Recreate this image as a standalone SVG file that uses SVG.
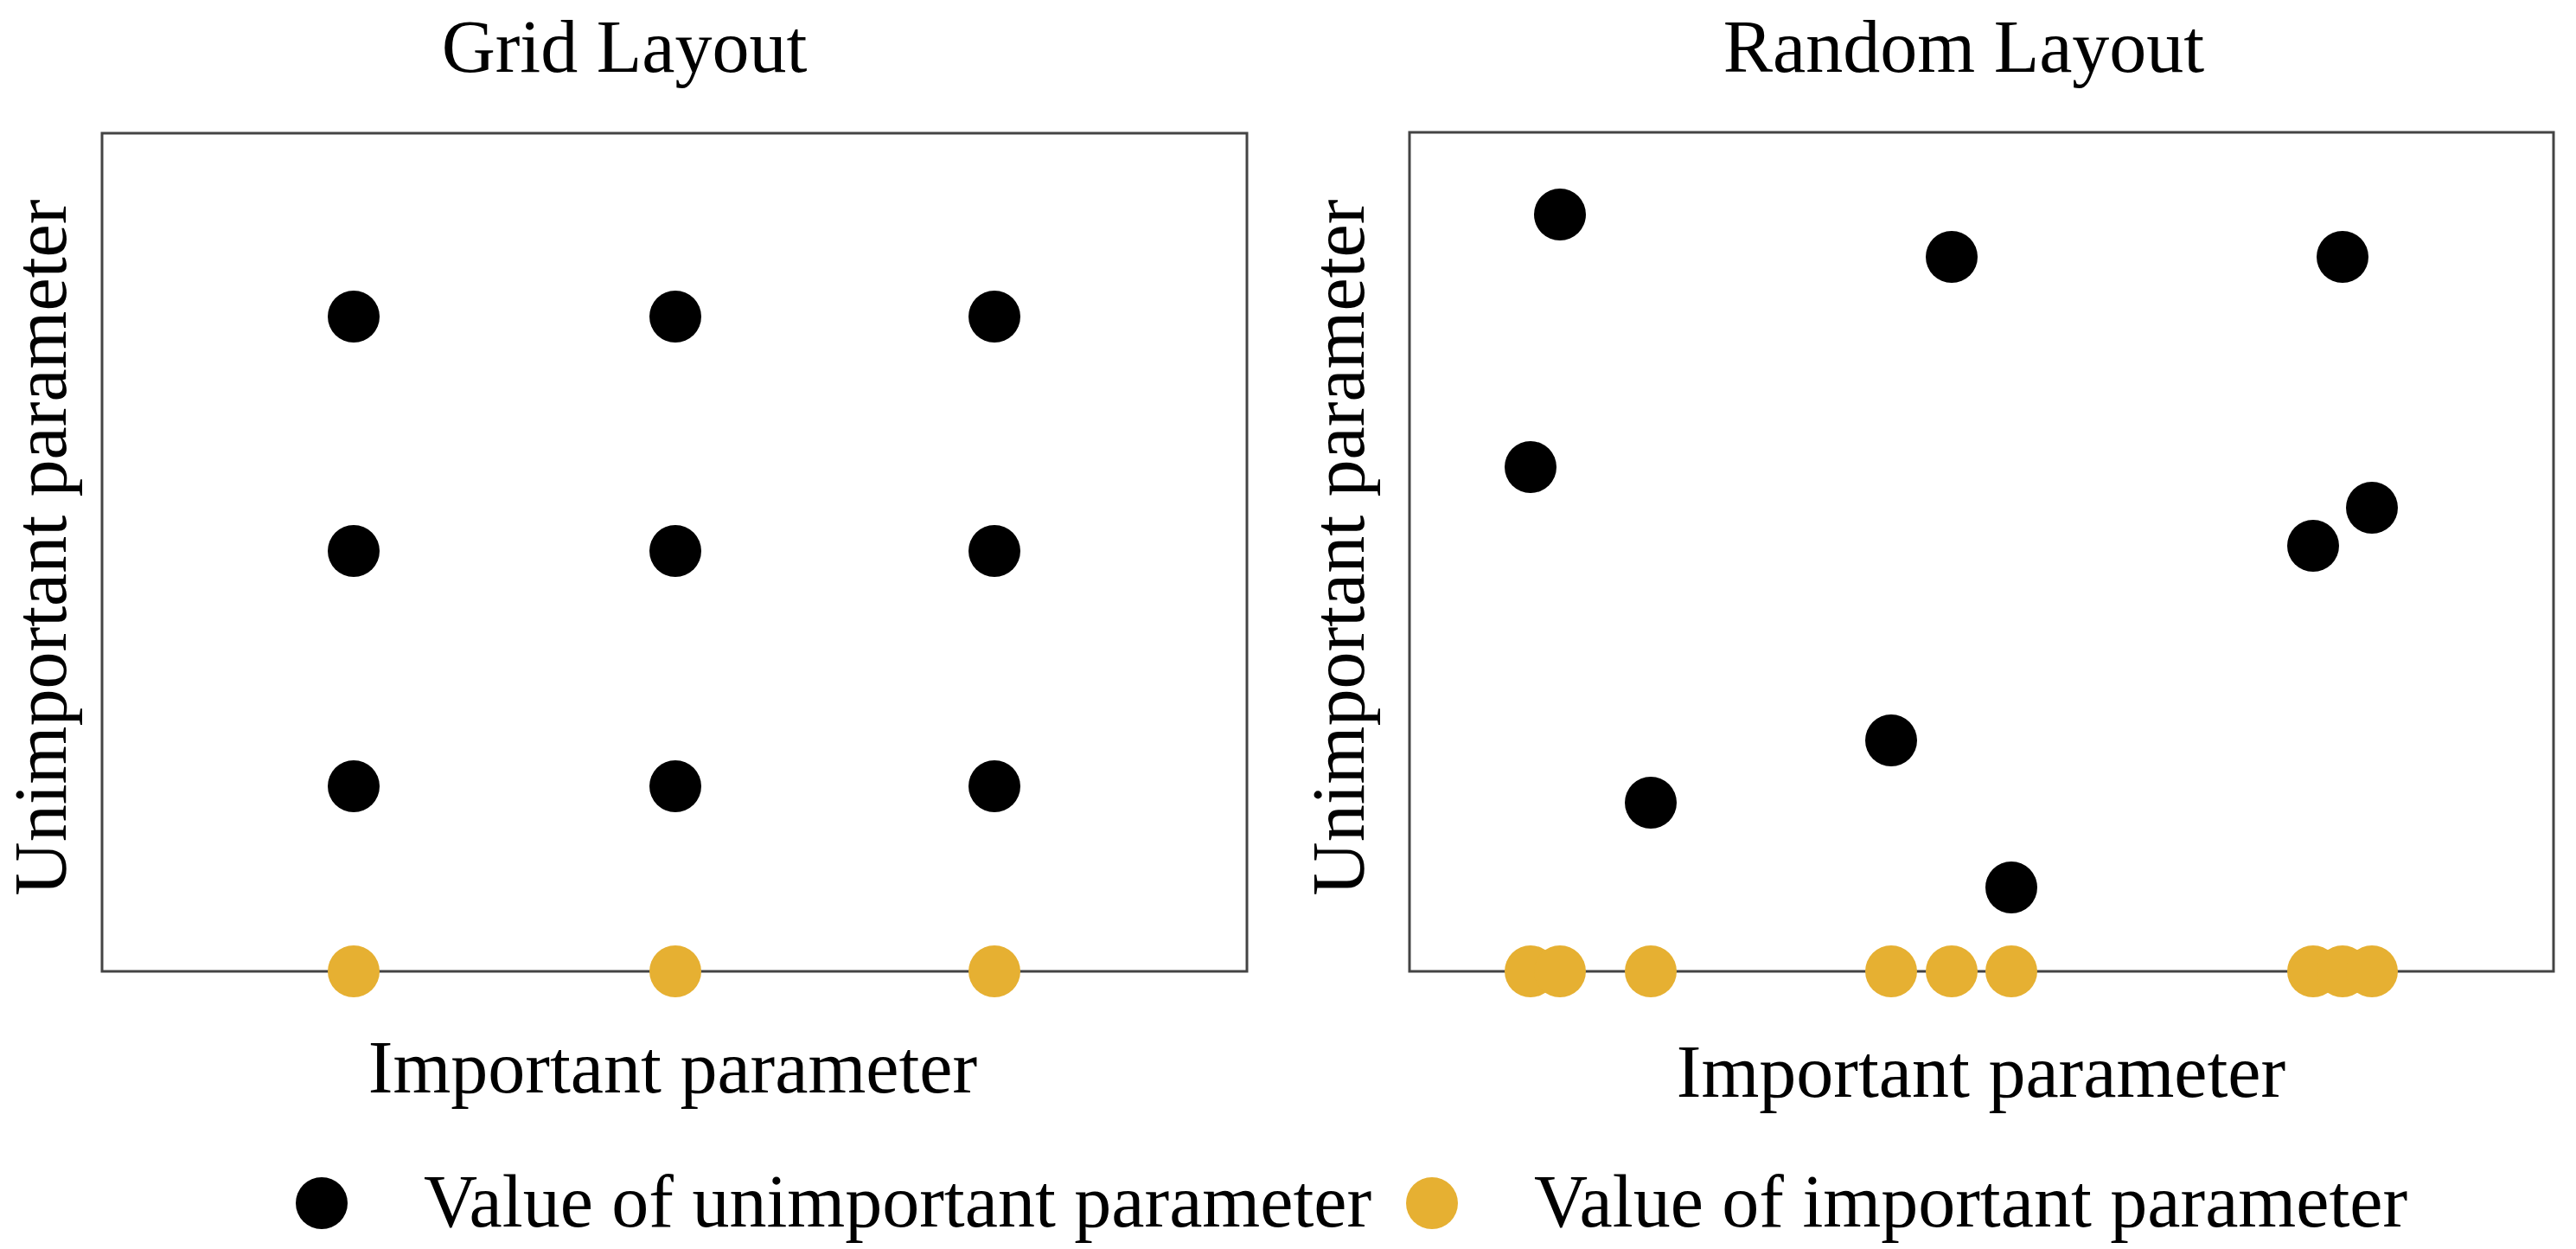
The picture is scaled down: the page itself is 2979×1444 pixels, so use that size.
<svg xmlns="http://www.w3.org/2000/svg" width="2979" height="1444" viewBox="0 0 2979 1444">
<style>
text{font-family:"Liberation Serif","Times New Roman",serif;font-size:86px;fill:#000}
.box{fill:none;stroke:#444;stroke-width:3}
.u{fill:#000}
.i{fill:#E6B032}
</style>
<rect width="2979" height="1444" fill="#fff"/>
<g id="grid-panel">
<text x="722" y="83" text-anchor="middle">Grid Layout</text>
<rect class="box" x="118" y="154" width="1324" height="969"/>
<text transform="translate(76,633) rotate(-90)" text-anchor="middle">Unimportant parameter</text>
<text x="778" y="1263" text-anchor="middle">Important parameter</text>
<g id="grid-unimportant">
<circle class="u" cx="409" cy="366" r="30"/><circle class="u" cx="781" cy="366" r="30"/><circle class="u" cx="1150" cy="366" r="30"/>
<circle class="u" cx="409" cy="637" r="30"/><circle class="u" cx="781" cy="637" r="30"/><circle class="u" cx="1150" cy="637" r="30"/>
<circle class="u" cx="409" cy="909" r="30"/><circle class="u" cx="781" cy="909" r="30"/><circle class="u" cx="1150" cy="909" r="30"/>
</g>
<g id="grid-important">
<circle class="i" cx="409" cy="1123" r="30"/><circle class="i" cx="781" cy="1123" r="30"/><circle class="i" cx="1150" cy="1123" r="30"/>
</g>
</g>
<g id="random-panel">
<text x="2271" y="83" text-anchor="middle">Random Layout</text>
<rect class="box" x="1630" y="153" width="1323" height="970"/>
<text transform="translate(1577,633) rotate(-90)" text-anchor="middle">Unimportant parameter</text>
<text x="2291" y="1268" text-anchor="middle">Important parameter</text>
<g id="random-unimportant">
<circle class="u" cx="1804" cy="248" r="30"/>
<circle class="u" cx="2257" cy="297" r="30"/>
<circle class="u" cx="2709" cy="297" r="30"/>
<circle class="u" cx="1770" cy="540" r="30"/>
<circle class="u" cx="2743" cy="587" r="30"/>
<circle class="u" cx="2675" cy="631" r="30"/>
<circle class="u" cx="2187" cy="856" r="30"/>
<circle class="u" cx="1909" cy="928" r="30"/>
<circle class="u" cx="2326" cy="1026" r="30"/>
</g>
<g id="random-important">
<circle class="i" cx="1770" cy="1123" r="30"/><circle class="i" cx="1804" cy="1123" r="30"/><circle class="i" cx="1909" cy="1123" r="30"/>
<circle class="i" cx="2187" cy="1123" r="30"/><circle class="i" cx="2257" cy="1123" r="30"/><circle class="i" cx="2326" cy="1123" r="30"/>
<circle class="i" cx="2675" cy="1123" r="30"/><circle class="i" cx="2709" cy="1123" r="30"/><circle class="i" cx="2743" cy="1123" r="30"/>
</g>
</g>
<g id="legend">
<circle class="u" cx="372" cy="1391" r="30"/>
<text x="490" y="1418">Value of unimportant parameter</text>
<circle class="i" cx="1656" cy="1391" r="30"/>
<text x="1774" y="1418">Value of important parameter</text>
</g>
<g id="connectors"/>
</svg>
